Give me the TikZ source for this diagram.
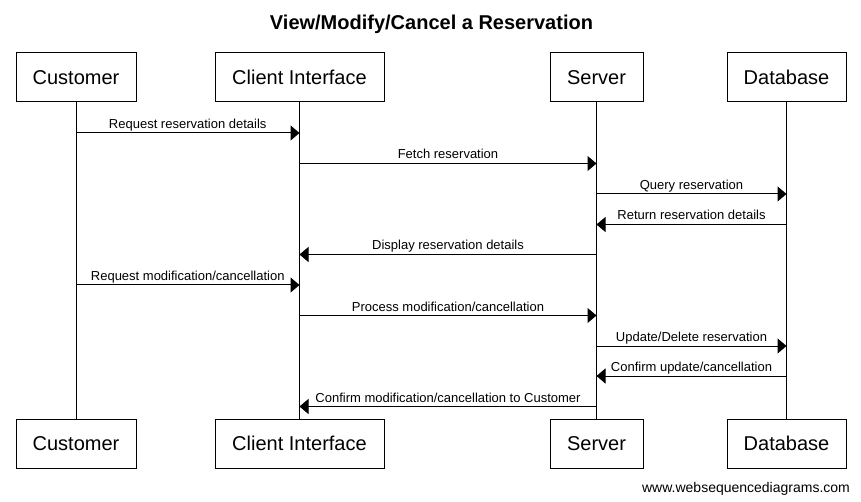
\documentclass[tikz,border=0pt]{standalone}
\usepackage{fontspec}
\setmainfont{Liberation Sans}
\usetikzlibrary{arrows.meta}
\begin{document}
\begin{tikzpicture}[x=1pt,y=-1pt,
  actor/.style={draw=black,line width=1pt,fill=white,minimum height=49pt,inner sep=0pt,
    font=\fontsize{20}{24}\selectfont,text height=14.3pt,text depth=0pt},
  life/.style={line width=1pt},
  msg/.style={line width=1pt,-{Triangle[length=9pt,width=15pt]}},
  lbl/.style={anchor=base,yshift=4.5pt,inner sep=0pt,font=\fontsize{13}{15}\selectfont}]
\useasboundingbox (0,0) rectangle (861,502);
% title
\node[anchor=base,inner sep=0pt,font=\fontsize{20}{24}\selectfont\bfseries] (title) at (431.5,29.5) {View/Modify/Cancel a Reservation};
% actors top
\node[actor,minimum width=120pt] (cust) at (76,77.5) {Customer};
\node[actor,minimum width=169pt] (ci) at (299.5,77.5) {Client Interface};
\node[actor,minimum width=93pt] (srv) at (596.5,77.5) {Server};
\node[actor,minimum width=119pt] (db) at (786.5,77.5) {Database};
% actors bottom
\node[actor,minimum width=120pt] (custb) at (76,443.5) {Customer};
\node[actor,minimum width=169pt] (cib) at (299.5,443.5) {Client Interface};
\node[actor,minimum width=93pt] (srvb) at (596.5,443.5) {Server};
\node[actor,minimum width=119pt] (dbb) at (786.5,443.5) {Database};
% lifelines
\draw[life] (cust.south) -- (custb.north);
\draw[life] (ci.south) -- (cib.north);
\draw[life] (srv.south) -- (srvb.north);
\draw[life] (db.south) -- (dbb.north);
% message rows
\coordinate (m1) at (0,133);
\coordinate (m2) at (0,163.5);
\coordinate (m3) at (0,194);
\coordinate (m4) at (0,224.5);
\coordinate (m5) at (0,254.5);
\coordinate (m6) at (0,285);
\coordinate (m7) at (0,315.5);
\coordinate (m8) at (0,346);
\coordinate (m9) at (0,376);
\coordinate (m10) at (0,406.5);
\draw[msg] (cust |- m1) -- node[lbl]{Request reservation details} (ci |- m1);
\draw[msg] (ci |- m2) -- node[lbl]{Fetch reservation} (srv |- m2);
\draw[msg] (srv |- m3) -- node[lbl]{Query reservation} (db |- m3);
\draw[msg] (db |- m4) -- node[lbl]{Return reservation details} (srv |- m4);
\draw[msg] (srv |- m5) -- node[lbl]{Display reservation details} (ci |- m5);
\draw[msg] (cust |- m6) -- node[lbl]{Request modification/cancellation} (ci |- m6);
\draw[msg] (ci |- m7) -- node[lbl]{Process modification/cancellation} (srv |- m7);
\draw[msg] (srv |- m8) -- node[lbl]{Update/Delete reservation} (db |- m8);
\draw[msg] (db |- m9) -- node[lbl]{Confirm update/cancellation} (srv |- m9);
\draw[msg] (srv |- m10) -- node[lbl]{Confirm modification/cancellation to Customer} (ci |- m10);
% footer
\node[anchor=base,inner sep=0pt,font=\fontsize{14}{16}\selectfont] (footer) at (746,492) {www.websequencediagrams.com};
\end{tikzpicture}
\end{document}
